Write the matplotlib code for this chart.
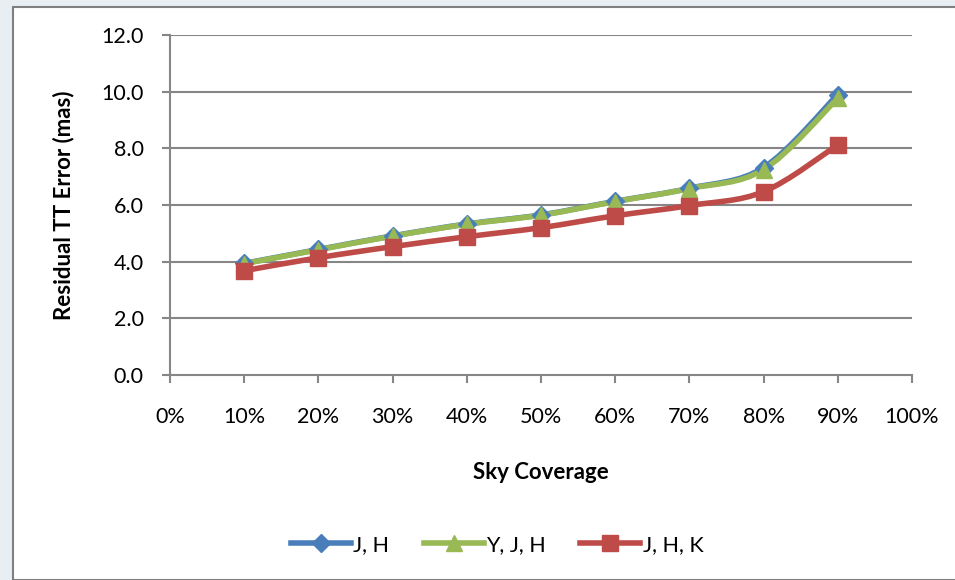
import numpy as np
import matplotlib
matplotlib.use("Agg")
import matplotlib.pyplot as plt
from matplotlib.patches import Rectangle
from matplotlib.path import Path
from matplotlib.patches import PathPatch
from matplotlib.lines import Line2D

plt.rcParams['font.family'] = ['Lato', 'DejaVu Sans']

coverage = [10, 20, 30, 40, 50, 60, 70, 80, 90]
jh = [3.94, 4.43, 4.91, 5.33, 5.65, 6.13, 6.59, 7.32, 9.90]
yjh = [3.93, 4.42, 4.90, 5.32, 5.64, 6.12, 6.58, 7.25, 9.77]
jhk = [3.68, 4.14, 4.53, 4.88, 5.20, 5.62, 5.98, 6.47, 8.12]

x_ticks = [0, 10, 20, 30, 40, 50, 60, 70, 80, 90, 100]
y_ticks = [0, 2, 4, 6, 8, 10, 12]

series = [
    ("J, H", jh, "#4A7EBB", "D", 9),
    ("Y, J, H", yjh, "#98B954", "^", 11),
    ("J, H, K", jhk, "#BE4B48", "s", 11),
]

W, H = 955, 580
fig = plt.figure(figsize=(W / 100, H / 100), dpi=100)
fig.patch.set_facecolor("#E9EEF3")
fig.patches.append(Rectangle((13 / W, 0), 1.2, 1 - 7 / H, transform=fig.transFigure,
                             facecolor="white", edgecolor="#7F7F7F", linewidth=1.5,
                             zorder=-1))

ax = fig.add_axes([170 / W, 1 - 375 / H, (912 - 170) / W, (375 - 35) / H])
ax.set_zorder(1)
ax.set_facecolor("white")
ax.set_xlim(0, 100)
ax.set_ylim(0, 12)


def smooth_path(xs, ys, tension=1 / 6):
    # cubic Bezier through the points with Catmull-Rom style control points
    px, py = np.asarray(xs, float), np.asarray(ys, float)
    verts = [(px[0], py[0])]
    codes = [Path.MOVETO]
    n = len(px)
    for i in range(n - 1):
        p0 = (px[max(i - 1, 0)], py[max(i - 1, 0)])
        p1 = (px[i], py[i])
        p2 = (px[i + 1], py[i + 1])
        p3 = (px[min(i + 2, n - 1)], py[min(i + 2, n - 1)])
        c1 = (p1[0] + (p2[0] - p0[0]) * tension, p1[1] + (p2[1] - p0[1]) * tension)
        c2 = (p2[0] - (p3[0] - p1[0]) * tension, p2[1] - (p3[1] - p1[1]) * tension)
        verts += [c1, c2, p2]
        codes += [Path.CURVE4] * 3
    return Path(verts, codes)


for label, vals, color, marker, ms in series:
    ax.add_patch(PathPatch(smooth_path(coverage, vals), facecolor="none",
                           edgecolor=color, linewidth=4, capstyle="round",
                           joinstyle="round", zorder=3))
    ax.plot(coverage, vals, linestyle="none", marker=marker, markersize=ms,
            color=color, markeredgecolor=color, zorder=4)

grid_c = "#868686"
for yv in y_ticks[1:]:
    ax.axhline(yv, color=grid_c, linewidth=1.5, zorder=1)
for side in ("top", "right"):
    ax.spines[side].set_visible(False)
for side in ("left", "bottom"):
    ax.spines[side].set_color(grid_c)
    ax.spines[side].set_linewidth(1.5)

ax.set_xticks(x_ticks)
ax.set_xticklabels([f"{v}%" for v in x_ticks])
ax.set_yticks(y_ticks)
ax.set_yticklabels([f"{v:.1f}" for v in y_ticks])
ax.tick_params(axis="both", colors=grid_c, labelcolor="black", labelsize=15.5,
               width=1.5, length=6, direction="out")
ax.tick_params(axis="x", pad=17)
ax.tick_params(axis="y", pad=13)

ax.set_xlabel("Sky Coverage", fontsize=16, fontweight="bold", labelpad=25)
ax.set_ylabel("Residual TT Error (mas)", fontsize=16, fontweight="bold", labelpad=19)

handles = [Line2D([], [], color=c, linewidth=4, marker=m, markersize=ms,
                  markeredgecolor=c) for _, _, c, m, ms in series]
fig.legend(handles, [s[0] for s in series], loc="center", bbox_to_anchor=(497 / W, 1 - 545 / H),
           ncol=3, frameon=False, fontsize=15.5, handlelength=2.8, handletextpad=0.1,
           columnspacing=1.6)

fig.savefig("out.png", dpi=100)
